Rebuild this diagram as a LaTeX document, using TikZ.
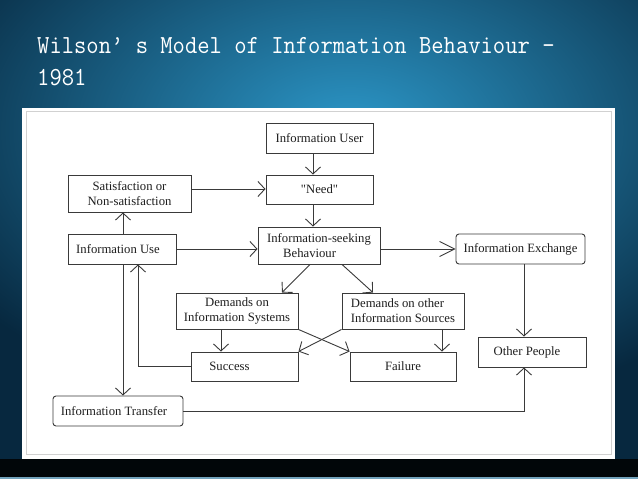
\documentclass[tikz,border=0pt]{standalone}
\usepackage{fontspec}
\setmainfont{Liberation Serif}
\newfontfamily\qfont{Liberation Serif}
\usetikzlibrary{arrows.meta,calc}
\definecolor{bgdark}{HTML}{07283F}
\definecolor{bgmid}{HTML}{15658F}
\definecolor{bglight}{HTML}{2C97C8}
\definecolor{linec}{HTML}{3A3A3A}
\definecolor{textc}{HTML}{1E1E1E}
\tikzset{
  box/.style={draw=linec, line width=0.9pt, fill=white, inner sep=0pt, text=textc,
    font=\fontsize{12.7}{15}\selectfont, align=center},
  rbox/.style={box, rounded corners=3pt},
  arr/.style={draw=linec, line width=0.9pt, -{Straight Barb[length=7pt,width=15pt]}},
  longarr/.style={draw=linec, line width=0.9pt, -{Straight Barb[length=15pt,width=15pt]}},
  titletext/.style={anchor=base west, inner sep=0pt, text=white, font=\ttfamily\fontsize{26}{32}\selectfont}
}
\begin{document}
\begin{tikzpicture}[x=1pt,y=-1pt]
\useasboundingbox (0,0) rectangle (638,479);
% background
\fill[bgdark] (0,0) rectangle (638,479);
\shade[inner color=bglight, outer color=bgdark] (-120,-160) rectangle (820,420);
\fill[black!85!bgdark] (0,459) rectangle (638,477);
\fill[bgmid!60!white] (0,477) rectangle (638,479);
% title
\node[titletext] (t1) at (37,53) {\scalebox{0.92}[1]{Wilson’ s Model of Information Behaviour -}};
\node[titletext] (t2) at (37,85) {\scalebox{0.92}[1]{1981}};
% panel
\fill[white] (22,108) rectangle (615,459);
\draw[black!18, line width=0.8pt] (26,111) rectangle (611,454);
% coordinates for connector lines
\coordinate (x313) at (313,0);
\coordinate (x310) at (310,0);
\coordinate (x282) at (282,0);
\coordinate (x342) at (342,0);
\coordinate (x373) at (373,0);
\coordinate (x221) at (221,0);
\coordinate (x442) at (442,0);
\coordinate (x123) at (123,0);
\coordinate (x138) at (138,0);
\coordinate (x524) at (524,0);
\coordinate (y189) at (0,189);
% nodes
\node[box, minimum width=107pt, minimum height=30pt] (user) at (319.5,138) {Information User};
\node[box, minimum width=107pt, minimum height=29pt] (need) at (319.5,189.5) {{\qfont "Need"}};
\node[box, minimum width=122pt, minimum height=37pt, align=left] (isb) at (319,245.5) {Information-seeking\\\hspace*{16pt}Behaviour};
\node[box, minimum width=123pt, minimum height=37pt] (sat) at (129.5,193.5) {Satisfaction or\\Non-satisfaction};
\node[box, minimum width=108pt, minimum height=30pt] (use) at (122,249) {Information Use\hspace*{8pt}};
\node[rbox, minimum width=129pt, minimum height=30pt] (exch) at (520.5,249) {Information Exchange};
\node[box, minimum width=122pt, minimum height=36pt] (dis) at (237,311) {Demands on\\Information Systems};
\node[box, minimum width=122pt, minimum height=36pt, align=left] (dos) at (403,311) {Demands on other\\Information Sources};
\node[box, minimum width=107pt, minimum height=29pt] (succ) at (244.5,366.5) {\raisebox{-3pt}{Success}\hspace*{30pt}};
\node[box, minimum width=106pt, minimum height=29pt] (fail) at (403,366.5) {\raisebox{-3pt}{Failure}};
\node[box, minimum width=108pt, minimum height=30pt] (other) at (532,352) {Other People\hspace*{10pt}};
\node[rbox, minimum width=130pt, minimum height=30pt] (trans) at (118,411) {Information Transfer\hspace*{8pt}};
% connectors
\draw[arr] (user.south -| x313) -- (need.north -| x313);
\draw[arr] (need.south -| x313) -- (isb.north -| x313);
\draw[arr] (sat.east |- y189) -- (need.west |- y189);
\draw[arr] (use.north -| x123) -- (sat.south -| x123);
\draw[arr] (use.east) -- (isb.west |- use.east);
\draw[longarr] (isb.east |- exch.west) -- (exch.west);
\draw[arr] (isb.south -| x310) -- (dis.north -| x282);
\draw[arr] (isb.south -| x342) -- (dos.north -| x373);
\draw[arr] (dis.south -| x221) -- (succ.north -| x221);
\draw[arr] (dis.south east) -- (fail.north west);
\draw[arr] (dos.south west) -- (succ.north east);
\draw[arr] (dos.south -| x442) -- (fail.north -| x442);
\draw[arr] (succ.west) -| (use.south -| x138);
\draw[arr] (use.south -| x123) -- (trans.north -| x123);
\draw[arr] (trans.east) -| (other.south -| x524);
\draw[arr] (exch.south -| x524) -- (other.north -| x524);
\end{tikzpicture}
\end{document}
